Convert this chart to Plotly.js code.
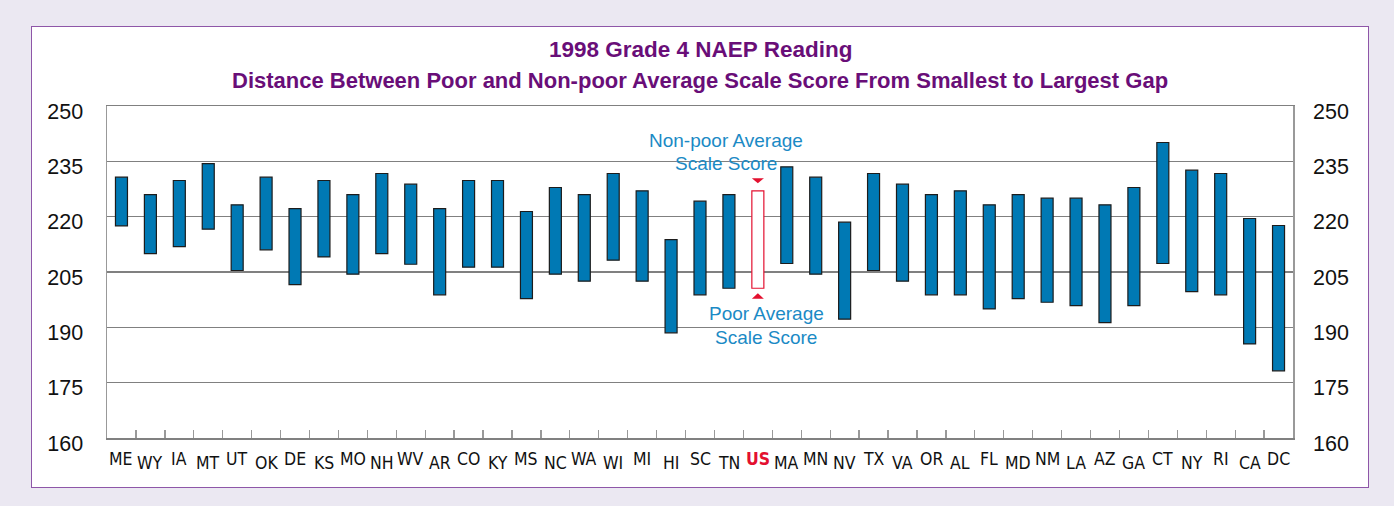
<!DOCTYPE html>
<html>
<head>
<meta charset="utf-8">
<script src="https://cdn.plot.ly/plotly-3.0.1.min.js"></script>
<style>
  html, body { margin: 0; padding: 0; background: #ebe8f2; }
  #box { position: absolute; left: 31px; top: 26px; width: 1338px; height: 462px; box-sizing: border-box;
         background: #ffffff; border: 1.5px solid #8e56a8; }
  #chart { position: absolute; left: 0; top: 0; width: 1394px; height: 506px; }
</style>
</head>
<body>
<div id="box"></div>
<div id="chart"></div>
<script>
// ---- data ----
const states = ["ME","WY","IA","MT","UT","OK","DE","KS","MO","NH","WV","AR","CO","KY","MS","NC","WA","WI","MI","HI","SC","TN","US","MA","MN","NV","TX","VA","OR","AL","FL","MD","NM","LA","AZ","GA","CT","NY","RI","CA","DC"];
const nonPoor = [230.7,226.0,229.8,234.4,223.2,230.7,222.2,229.8,226.0,231.7,228.8,222.2,229.8,229.8,221.4,227.9,226.0,231.7,227.0,213.8,224.2,226.0,227.0,233.5,230.7,218.5,231.7,228.8,226.0,227.0,223.2,226.0,225.0,225.0,223.2,227.9,240.1,232.6,231.7,219.5,217.6];
const poor    = [217.5,210.0,211.9,216.6,205.4,211.0,201.6,209.1,204.4,210.0,207.1,198.8,206.3,206.3,197.8,204.4,202.5,208.2,202.5,188.5,198.8,200.6,200.6,207.3,204.4,192.2,205.4,202.5,198.8,198.8,195.0,197.8,196.8,195.9,191.3,195.9,207.3,199.7,198.8,185.5,178.2];
const yTicks  = [160,175,190,205,220,235,250];
const highlight = "US";

// ---- styles ----
const barBlue = "#0079b4";
const red = "#e3102f";
const labelBlue = "#1b8ac5";
const purple = "#690e78";
const gridGrey = "#808080";
const usIdx = states.indexOf(highlight);

const trace = {
  type: "bar",
  x: states,
  base: poor,
  y: nonPoor.map((v, i) => v - poor[i]),
  width: 0.415,
  marker: {
    color: states.map(s => s === highlight ? "#ffffff" : barBlue),
    line: { color: states.map(s => s === highlight ? red : "#1c1c1c"), width: 1.2 }
  },
  hoverinfo: "skip"
};
const dummy = { type: "scatter", x: [states[0]], y: [null], yaxis: "y2", showlegend: false, hoverinfo: "skip" };

const annotations = [];
// title
annotations.push({ xref: "paper", yref: "paper", x: 0.5, y: 1, yanchor: "middle", yshift: 57, showarrow: false,
  text: "<b>1998 Grade 4 NAEP Reading</b>", font: { family: "Liberation Sans, Arial, sans-serif", size: 22.5, color: purple } });
annotations.push({ xref: "paper", yref: "paper", x: 0.5, y: 1, yanchor: "middle", yshift: 26, showarrow: false,
  text: "<b>Distance Between Poor and Non-poor Average Scale Score From Smallest to Largest Gap</b>",
  font: { family: "Liberation Sans, Arial, sans-serif", size: 22, color: purple } });
// x labels, staggered
states.forEach((s, i) => {
  const isUS = s === highlight;
  annotations.push({ xref: "x", yref: "paper", x: s, y: 0, yanchor: "middle", yshift: (i % 2 === 0) ? -21 : -25,
    showarrow: false, text: isUS ? "<b>" + s + "</b>" : s,
    font: { family: "Liberation Sans Narrow, DejaVu Sans Condensed, Arial, sans-serif", size: 17.5, color: isUS ? red : "#111111" } });
});
// callout labels
const lblFont = { family: "Liberation Sans, Arial, sans-serif", size: 19, color: labelBlue };
annotations.push({ xref: "x", yref: "y", x: highlight, y: nonPoor[usIdx], xshift: -32, yshift: 50.5, yanchor: "middle", showarrow: false, text: "Non-poor Average", font: lblFont });
annotations.push({ xref: "x", yref: "y", x: highlight, y: nonPoor[usIdx], xshift: -32, yshift: 27, yanchor: "middle", showarrow: false, text: "Scale Score", font: lblFont });
annotations.push({ xref: "x", yref: "y", x: highlight, y: poor[usIdx], xshift: 8.5, yshift: -25, yanchor: "middle", showarrow: false, text: "Poor Average", font: lblFont });
annotations.push({ xref: "x", yref: "y", x: highlight, y: poor[usIdx], xshift: 8.5, yshift: -49.5, yanchor: "middle", showarrow: false, text: "Scale Score", font: lblFont });

const shapes = [
  { type: "path", xref: "x", yref: "y", xsizemode: "pixel", ysizemode: "pixel", xanchor: usIdx, yanchor: nonPoor[usIdx],
    path: "M-6,12.5L6,12.5L0,7.5Z", fillcolor: red, line: { width: 0 } },
  { type: "path", xref: "x", yref: "y", xsizemode: "pixel", ysizemode: "pixel", xanchor: usIdx, yanchor: poor[usIdx],
    path: "M-6,-10.5L6,-10.5L0,-5Z", fillcolor: red, line: { width: 0 } }
];

const tickFont = { family: "Liberation Sans, Arial, sans-serif", size: 21.5, color: "#111111" };
const layout = {
  width: 1394, height: 506,
  margin: { l: 107, r: 101, t: 106, b: 68, pad: 0 },
  paper_bgcolor: "rgba(0,0,0,0)", plot_bgcolor: "rgba(0,0,0,0)",
  showlegend: false,
  xaxis: {
    type: "category", range: [-0.5, states.length - 0.5], fixedrange: true,
    showgrid: false, showticklabels: false,
    ticks: "inside", tickson: "boundaries", ticklen: 8, tickwidth: 1.3, tickcolor: "#999999",
    showline: true, linecolor: gridGrey, linewidth: 1.5, mirror: true
  },
  yaxis: {
    range: [160, 250], tickvals: yTicks, ticktext: yTicks.map(String), fixedrange: true,
    showgrid: true, gridcolor: gridGrey, gridwidth: 1.6, zeroline: false,
    showline: true, linecolor: "#999999", linewidth: 1.5, mirror: true,
    ticks: "", ticklabelstandoff: 18, ticklabelshift: 5, tickfont: tickFont
  },
  yaxis2: {
    overlaying: "y", side: "right", range: [160, 250], tickvals: yTicks, ticktext: yTicks.map(String), fixedrange: true,
    showgrid: false, zeroline: false, showline: false,
    ticks: "", ticklabelstandoff: 19, ticklabelshift: 5, tickfont: tickFont
  },
  annotations: annotations,
  shapes: shapes
};

Plotly.newPlot("chart", [trace, dummy], layout, { displayModeBar: false, staticPlot: true });
</script>
</body>
</html>
